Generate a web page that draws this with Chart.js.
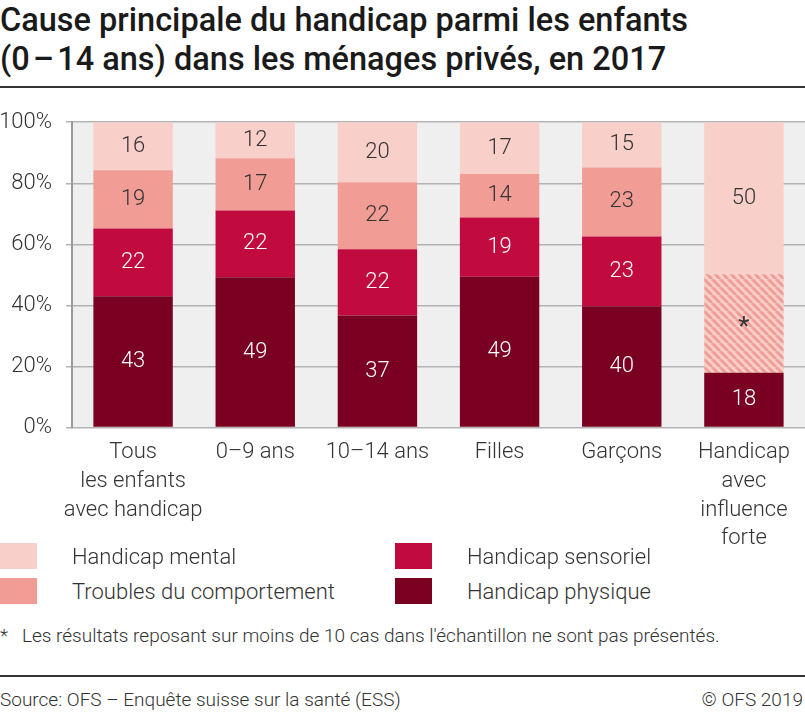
<!DOCTYPE html>
<html lang="fr">
<head>
<meta charset="utf-8">
<script src="https://cdn.jsdelivr.net/npm/chart.js@4.4.1/dist/chart.umd.min.js"></script>
<style>
  html, body { margin: 0; padding: 0; background: #fff; }
  body { width: 805px; height: 714px; position: relative; overflow: hidden; font-family: Roboto, "Noto Sans", sans-serif; color: #222; }
  h1 { position: absolute; left: 0; top: 1px; margin: 0; font-size: 32.5px; line-height: 39px; font-weight: 500; color: #1a1a1a; }
  .rule { position: absolute; left: 0; width: 805px; height: 2px; background: #333; }
  #wrap { position: absolute; left: 0; top: 95px; width: 805px; height: 469px; }
  .legend { position: absolute; font-size: 22px; color: #333; font-weight: 300; }
  .legend .item { position: absolute; white-space: nowrap; display: flex; align-items: center; }
  .legend .sw { width: 37px; height: 26px; margin-right: 35px; }
  .note { position: absolute; left: 0; top: 624px; font-size: 19px; color: #333; font-weight: 300; }
  .src { position: absolute; top: 688px; font-size: 19px; color: #333; font-weight: 300; }
</style>
</head>
<body>
<h1>Cause principale du handicap parmi les enfants<br>(0&#8202;–&#8202;14 ans) dans les ménages privés, en 2017</h1>
<div class="rule" style="top:86px"></div>
<div id="wrap"><canvas id="chart"></canvas></div>
<div class="legend" id="legend"></div>
<div class="note">*&nbsp;&nbsp;&nbsp;Les résultats reposant sur moins de 10 cas dans l'échantillon ne sont pas présentés.</div>
<div class="rule" style="top:675px"></div>
<div class="src" style="left:0">Source: OFS – Enquête suisse sur la santé (ESS)</div>
<div class="src" style="right:2px">© OFS 2019</div>

<script>
// categories (multi-line labels)
const categories = [
    ["Tous", "les enfants", "avec handicap"],
    ["0–9 ans"],
    ["10–14 ans"],
    ["Filles"],
    ["Garçons"],
    ["Handicap", "avec", "influence", "forte"],
];

// shares in %, stacked bottom to top (labels are rounded)
const physique = [43.0, 49.2, 36.7, 49.4, 39.7, 18.0];
const sensoriel = [22.2, 21.9, 21.7, 19.4, 22.9, null];
const comportement = [19.1, 17.1, 21.9, 14.2, 22.6, null];
const nonPublie = [null, null, null, null, null, 32.2]; // hatched, shown as *
const mental = [15.7, 11.8, 19.7, 17.0, 14.8, 49.8];

const yTicks = [0, 20, 40, 60, 80, 100];

const COLORS = {
    mental: "#f9cfca",
    comportement: "#f29c96",
    sensoriel: "#c10a3d",
    physique: "#7a0021",
};

// diagonal stripes for the suppressed segment
function makeHatch() {
    const size = 8;
    const c = document.createElement("canvas");
    c.width = size;
    c.height = size;
    const g = c.getContext("2d");
    g.fillStyle = COLORS.mental;
    g.fillRect(0, 0, size, size);
    g.strokeStyle = COLORS.comportement;
    g.lineWidth = 3;
    g.beginPath();
    for (let k = -size; k <= size * 2; k += size) {
        g.moveTo(k, 0);
        g.lineTo(k + size, size);
    }
    g.stroke();
    return g.createPattern(c, "repeat");
}

const datasets = [
    { label: "Handicap physique", data: physique, backgroundColor: COLORS.physique, textColor: "#fff" },
    { label: "Handicap sensoriel", data: sensoriel, backgroundColor: COLORS.sensoriel, textColor: "#fff" },
    { label: "Troubles du comportement", data: comportement, backgroundColor: COLORS.comportement, textColor: "#333" },
    { label: "*", data: nonPublie, backgroundColor: makeHatch(), textColor: "#333", star: true },
    { label: "Handicap mental", data: mental, backgroundColor: COLORS.mental, textColor: "#333" },
];

// grey plot background
const plotBg = {
    id: "plotBg",
    beforeDraw(chart) {
        const { ctx, chartArea: a } = chart;
        ctx.save();
        ctx.fillStyle = "#efefef";
        ctx.fillRect(a.left, a.top, a.right - a.left, a.bottom - a.top);
        ctx.restore();
    },
};

// values in the middle of each segment
const segLabels = {
    id: "segLabels",
    afterDatasetsDraw(chart) {
        const { ctx } = chart;
        ctx.save();
        ctx.textAlign = "center";
        ctx.textBaseline = "middle";
        chart.data.datasets.forEach((ds, i) => {
            const meta = chart.getDatasetMeta(i);
            meta.data.forEach((bar, j) => {
                const v = ds.data[j];
                if (v == null) return;
                const top = Math.max(bar.y, chart.chartArea.top);
                const y = (top + bar.base) / 2;
                ctx.fillStyle = ds.textColor;
                if (ds.star) {
                    ctx.font = "400 26px Roboto";
                    ctx.fillText("*", bar.x, y + 5);
                } else {
                    ctx.font = "300 22px Roboto";
                    ctx.fillText(String(Math.round(v)), bar.x, y);
                }
            });
        });
        ctx.restore();
    },
};

new Chart(document.getElementById("chart"), {
    type: "bar",
    data: { labels: categories, datasets },
    options: {
        responsive: true,
        maintainAspectRatio: false,
        animation: false,
        layout: { padding: { top: 27, right: 0, left: 0, bottom: 0 } },
        datasets: { bar: { categoryPercentage: 1, barPercentage: 0.65, borderWidth: 0 } },
        plugins: { legend: { display: false }, tooltip: { enabled: false } },
        scales: {
            x: {
                stacked: true,
                grid: { display: false, drawTicks: false },
                border: { display: false },
                ticks: {
                    color: "#333",
                    padding: 11,
                    maxRotation: 0,
                    autoSkip: false,
                    font: { family: "Roboto", size: 22, weight: 300, lineHeight: 1.3 },
                },
            },
            y: {
                stacked: true,
                min: 0,
                max: 100,
                afterBuildTicks(axis) {
                    axis.ticks = yTicks.map((v) => ({ value: v }));
                },
                afterFit(axis) {
                    axis.width = 72;
                },
                grid: { color: "#b3b3b3", lineWidth: 1.5, tickLength: 6 },
                border: { display: true, color: "#9a9a9a", width: 2 },
                ticks: {
                    color: "#333",
                    padding: 14,
                    font: { family: "Roboto", size: 22, weight: 300 },
                    callback: (v) => v + "%",
                },
            },
        },
    },
    plugins: [plotBg, segLabels],
});

// legend in two columns, same order as the reference
const legendItems = [
    { label: "Handicap mental", color: COLORS.mental, left: 0, top: 543 },
    { label: "Handicap sensoriel", color: COLORS.sensoriel, left: 395, top: 543 },
    { label: "Troubles du comportement", color: COLORS.comportement, left: 0, top: 578 },
    { label: "Handicap physique", color: COLORS.physique, left: 395, top: 578 },
];
const legendEl = document.getElementById("legend");
legendItems.forEach((it) => {
    const d = document.createElement("div");
    d.className = "item";
    d.style.left = it.left + "px";
    d.style.top = it.top + "px";
    d.innerHTML = `<span class="sw" style="background:${it.color}"></span><span>${it.label}</span>`;
    legendEl.appendChild(d);
});
</script>
</body>
</html>
